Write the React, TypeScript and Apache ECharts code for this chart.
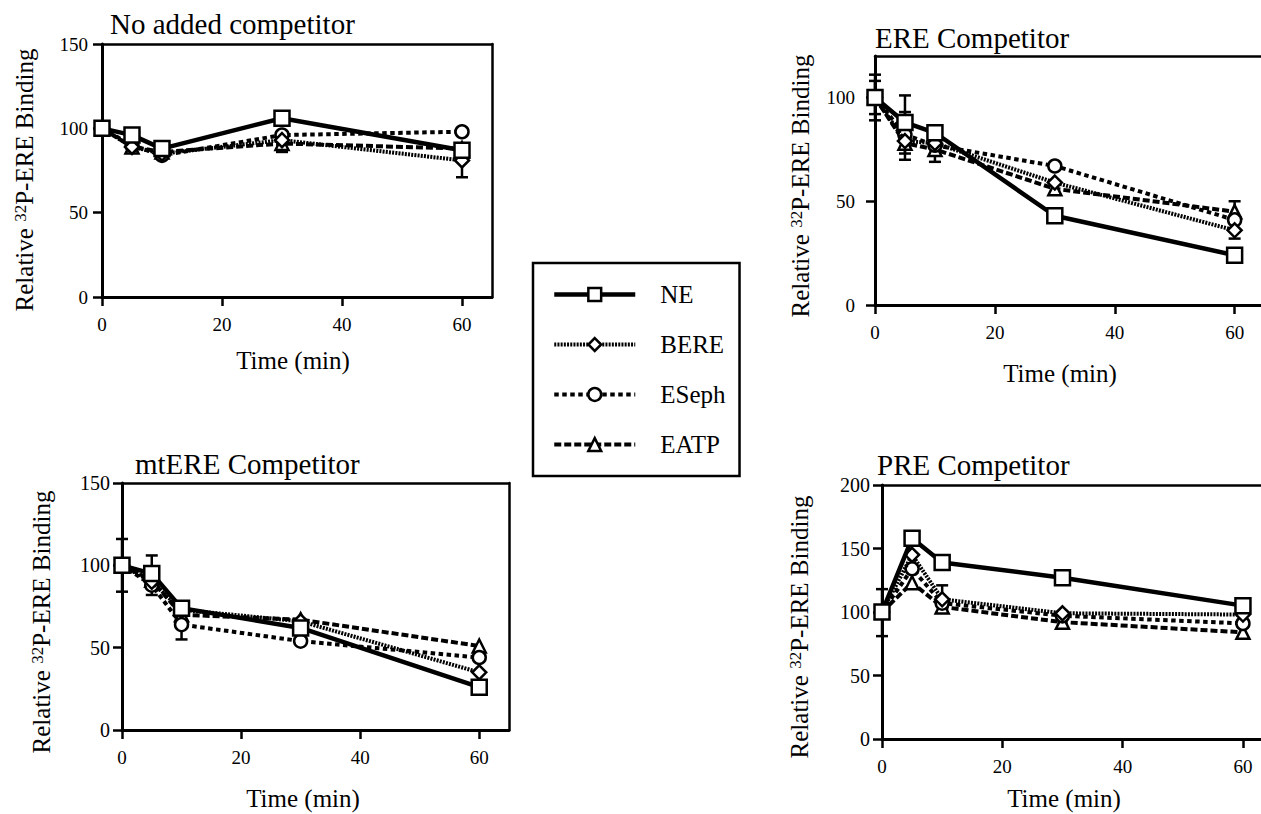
import React, { useEffect, useRef } from 'react';
import * as echarts from 'echarts';

// ---------- data ----------
const times = [0, 5, 10, 30, 60];
const seriesNames = ['NE', 'BERE', 'ESeph', 'EATP'];

const xTicks = [0, 20, 40, 60];
const yTicks150 = [0, 50, 100, 150];
const yTicksERE = [0, 50, 100];
const yTicksPRE = [0, 50, 100, 150, 200];

// No added competitor
const noneNE = [100, 96, 88, 106, 87];
const noneBERE = [100, 89, 85, 93, 81];
const noneESeph = [100, 90, 84, 96, 98];
const noneEATP = [100, 89, 86, 91, 88];
const noneErr = [[30, 86, 95], [60, 71, 88]];

// ERE Competitor
const ereNE = [100, 88, 83, 43, 24];
const ereBERE = [100, 79, 78, 59, 36];
const ereESeph = [100, 82, 77, 67, 41];
const ereEATP = [100, 78, 75, 56, 45];
const ereErr = [[0, 89, 111], [0, 92, 108], [5, 73, 101], [5, 70, 93], [10, 69, 86], [60, 32, 50]];

// mtERE Competitor
const mtNE = [100, 95, 74, 62, 26];
const mtBERE = [100, 90, 73, 66, 35];
const mtESeph = [100, 88, 64, 54, 44];
const mtEATP = [100, 91, 70, 67, 51];
const mtErr = [[0, 84, 116], [5, 82, 106], [10, 55, 72]];

// PRE Competitor
const preNE = [100, 158, 139, 127, 105];
const preBERE = [100, 145, 110, 99, 98];
const preESeph = [100, 134, 107, 97, 91];
const preEATP = [100, 123, 104, 92, 84];
const preErr = [[0, 81, 118], [10, 104, 121]];

const titles = ['No added competitor', 'ERE Competitor', 'mtERE Competitor', 'PRE Competitor'];

// ---------- layout / styling ----------
const FONT = '"Liberation Serif", "Times New Roman", Times, serif';

const panels = [
  { values: [noneNE, noneBERE, noneESeph, noneEATP], err: noneErr, yTicks: yTicks150,
    left: 102, top: 44, width: 390, height: 253, xMax: 65, yMax: 150, yMargin: 14, yFont: 19, rightLine: true,
    title: [110, 24], yName: [24, 180], xName: [293, 360] },
  { values: [ereNE, ereBERE, ereESeph, ereEATP], err: ereErr, yTicks: yTicksERE,
    left: 875, top: 56, width: 386, height: 249, xMax: 64.4, yMax: 120, yMargin: 20, yFont: 19, rightLine: false,
    title: [875, 38], yName: [800, 186], xName: [1060, 373] },
  { values: [mtNE, mtBERE, mtESeph, mtEATP], err: mtErr, yTicks: yTicks150,
    left: 122, top: 483, width: 387, height: 247, xMax: 65, yMax: 150, yMargin: 12, yFont: 20, rightLine: true,
    title: [135, 464], yName: [41, 622], xName: [303, 798] },
  { values: [preNE, preBERE, preESeph, preEATP], err: preErr, yTicks: yTicksPRE,
    left: 882, top: 485, width: 379, height: 254, xMax: 63, yMax: 200, yMargin: 12, yFont: 20, rightLine: false,
    title: [877, 465], yName: [799, 627], xName: [1064, 798] },
];

const seriesStyles = [
  { symbol: 'rect', symbolSize: 15, width: 4.5, type: 'solid' as any },
  { symbol: 'diamond', symbolSize: 14, width: 4, type: [2, 1.2] },
  { symbol: 'circle', symbolSize: 13, width: 4, type: [4.5, 3.5] },
  { symbol: 'triangle', symbolSize: 13, width: 4, type: [7, 3] },
];

function buildOption() {
  const grid: any[] = [];
  const xAxis: any[] = [];
  const yAxis: any[] = [];
  const series: any[] = [];
  const graphic: any[] = [];

  panels.forEach((p, i) => {
    grid.push({ left: p.left, top: p.top, width: p.width, height: p.height, containLabel: false, outerBoundsMode: 'none' });
    xAxis.push({
      type: 'value', gridIndex: i, position: 'bottom', min: 0, max: p.xMax,
      axisLine: { show: true, onZero: false, lineStyle: { color: '#000', width: 3 } },
      axisTick: { show: true, length: 9, lineStyle: { color: '#000', width: 2.5 }, customValues: xTicks },
      axisLabel: { show: true, customValues: xTicks, margin: 18, fontSize: 19, fontFamily: FONT, color: '#000' },
      splitLine: { show: false },
    });
    yAxis.push({
      type: 'value', gridIndex: i, position: 'left', min: 0, max: p.yMax,
      axisLine: { show: true, onZero: false, lineStyle: { color: '#000', width: 3 } },
      axisTick: { show: true, length: 9, lineStyle: { color: '#000', width: 2.5 }, customValues: p.yTicks },
      axisLabel: { show: true, customValues: p.yTicks, margin: p.yMargin, fontSize: p.yFont, fontFamily: FONT, color: '#000' },
      splitLine: { show: false },
    });
  });
  // top frame lines
  panels.forEach((p, i) => {
    xAxis.push({
      type: 'value', gridIndex: i, position: 'top', min: 0, max: p.xMax,
      axisLine: { show: true, onZero: false, lineStyle: { color: '#000', width: 2.5 } },
      axisTick: { show: false }, axisLabel: { show: false }, splitLine: { show: false },
    });
  });
  // right frame lines
  panels.forEach((p, i) => {
    if (!p.rightLine) return;
    yAxis.push({
      type: 'value', gridIndex: i, position: 'right', min: 0, max: p.yMax,
      axisLine: { show: true, onZero: false, lineStyle: { color: '#000', width: 2.5 } },
      axisTick: { show: false }, axisLabel: { show: false }, splitLine: { show: false },
    });
  });

  panels.forEach((p, i) => {
    // error bars
    series.push({
      type: 'custom', xAxisIndex: i, yAxisIndex: i, z: 1, silent: true, clip: false,
      encode: { x: 0, y: [1, 2] },
      data: p.err,
      renderItem: (params: any, api: any) => {
        const x = api.value(0);
        const lo = api.value(1);
        const hi = api.value(2);
        const a = api.coord([x, hi]);
        const b = api.coord([x, lo]);
        const w = 6;
        const st = { stroke: '#000', lineWidth: 2.5 };
        return {
          type: 'group',
          children: [
            { type: 'line', shape: { x1: a[0], y1: a[1], x2: b[0], y2: b[1] }, style: st },
            { type: 'line', shape: { x1: a[0] - w, y1: a[1], x2: a[0] + w, y2: a[1] }, style: st },
            { type: 'line', shape: { x1: b[0] - w, y1: b[1], x2: b[0] + w, y2: b[1] }, style: st },
          ],
        };
      },
    });
    // lines, drawn in reverse so NE is on top
    for (let s = seriesNames.length - 1; s >= 0; s--) {
      const st = seriesStyles[s];
      series.push({
        type: 'line', name: seriesNames[s], xAxisIndex: i, yAxisIndex: i, z: 2 + (3 - s),
        data: times.map((t, k) => [t, p.values[s][k]]),
        symbol: st.symbol, symbolSize: st.symbolSize, showSymbol: true, clip: false,
        lineStyle: { color: '#000', width: st.width, type: st.type },
        itemStyle: { color: '#fff', borderColor: '#000', borderWidth: 2.5 },
        emphasis: { disabled: true },
      });
    }

    graphic.push({
      type: 'text', x: p.title[0], y: p.title[1],
      style: { text: titles[i], fontSize: 29, fontFamily: FONT, fill: '#000', align: 'left', verticalAlign: 'middle' },
    });
    graphic.push({
      type: 'text', x: p.yName[0], y: p.yName[1], rotation: Math.PI / 2,
      style: {
        text: 'Relative {sup|32}P-ERE Binding', fontSize: 25, fontFamily: FONT, fill: '#000',
        align: 'center', verticalAlign: 'middle',
        rich: { sup: { fontSize: 17, fontFamily: FONT, fill: '#000', verticalAlign: 'top' } },
      },
    });
    graphic.push({
      type: 'text', x: p.xName[0], y: p.xName[1],
      style: { text: 'Time (min)', fontSize: 25, fontFamily: FONT, fill: '#000', align: 'center', verticalAlign: 'middle' },
    });
  });

  return {
    animation: false,
    backgroundColor: '#fff',
    grid, xAxis, yAxis, series, graphic,
    legend: {
      data: seriesNames.map((n, s) => ({
        name: n,
        lineStyle: { width: seriesStyles[s].width, type: seriesStyles[s].type, color: '#000' },
        itemStyle: { color: '#fff', borderColor: '#000', borderWidth: 2.5 },
      })),
      orient: 'vertical', left: 533, top: 263,
      padding: [19, 14, 19, 19],
      itemWidth: 81, itemHeight: 16, itemGap: 25,
      borderColor: '#000', borderWidth: 2.5,
      selectedMode: false,
      textStyle: { fontSize: 25, fontFamily: FONT, color: '#000', padding: [0, 0, 0, 20], lineHeight: 24 },
    },
  };
}

export default function App() {
  const ref = useRef<HTMLDivElement>(null);
  useEffect(() => {
    const chart = echarts.init(ref.current as HTMLDivElement, null, { renderer: 'svg' });
    chart.setOption(buildOption() as any);
    return () => chart.dispose();
  }, []);
  return (
    <div
      ref={ref}
      style={{ position: 'absolute', left: 0, top: 0, width: 1261, height: 814, background: '#fff' }}
    />
  );
}
